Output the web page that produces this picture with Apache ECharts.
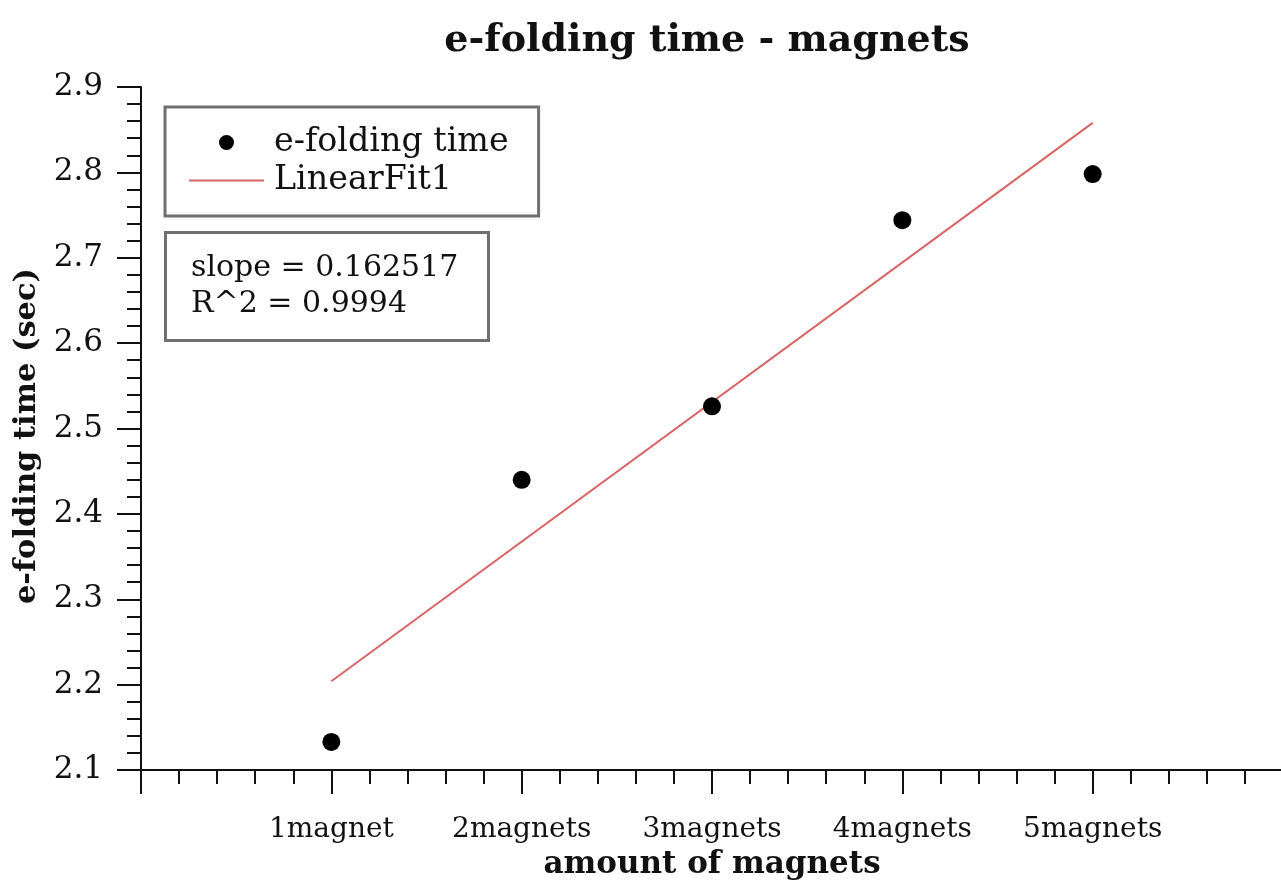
<!DOCTYPE html>
<html>
<head>
<meta charset="utf-8">
<script src="https://cdn.jsdelivr.net/npm/echarts@6/dist/echarts.min.js"></script>
<style>html,body{margin:0;padding:0;background:#fff;overflow:hidden;width:1281px;height:885px}#c{width:1286px;height:885px}</style>
</head>
<body>
<div id="c"></div>
<script>
const categories = ['1magnet', '2magnets', '3magnets', '4magnets', '5magnets'];
const xPositions = [1, 2, 3, 4, 5];
const efoldingTime = [2.133, 2.440, 2.526, 2.744, 2.798];
const fitX = [1, 5];
const fitY = [2.204, 2.858];
const yTicks = ['2.1', '2.2', '2.3', '2.4', '2.5', '2.6', '2.7', '2.8', '2.9'];
const statsText = ['slope = 0.162517', 'R^2 = 0.9994'];

const FONT = 'DejaVu Serif';
const chart = echarts.init(document.getElementById('c'), null, {renderer: 'canvas'});
chart.setOption({
  animation: false,
  backgroundColor: '#fff',
  title: [
    {
      text: 'e-folding time - magnets',
      left: 702, top: 17, textAlign: 'center',
      textStyle: {fontFamily: FONT, fontWeight: 'bold', fontSize: 38, color: '#111'}
    },
    {
      text: statsText.join('\n'),
      left: 165, top: 232,
      padding: [18, 30, 19, 26],
      borderColor: '#707070', borderWidth: 3,
      backgroundColor: '#fff',
      textStyle: {fontFamily: FONT, fontWeight: 'normal', fontSize: 30, lineHeight: 36, color: '#111'}
    }
  ],
  legend: {
    orient: 'vertical',
    left: 165, top: 107,
    padding: [19, 30, 19, 24],
    borderColor: '#707070', borderWidth: 3,
    backgroundColor: '#fff',
    symbolKeepAspect: true,
    itemWidth: 75, itemHeight: 15, itemGap: 5,
    textStyle: {fontFamily: FONT, fontSize: 33.3, lineHeight: 32, color: '#111', padding: [0, 0, 0, 5]},
    data: [
      {name: 'e-folding time', icon: 'circle'},
      {name: 'LinearFit1', icon: 'path://M0,0 L75,0 L75,2 L0,2 Z'}
    ]
  },
  grid: {left: 141, right: 1, top: 87, bottom: 109, containLabel: false},
  xAxis: {
    type: 'value', min: 0, max: 6, interval: 1,
    name: 'amount of magnets', nameLocation: 'middle', nameGap: 78,
    nameTextStyle: {fontFamily: FONT, fontWeight: 'bold', fontSize: 31, color: '#111'},
    axisLine: {lineStyle: {color: '#111', width: 2}},
    axisTick: {show: true, inside: false, length: 24, lineStyle: {color: '#111', width: 2}},
    minorTick: {show: true, splitNumber: 5, length: 14, lineStyle: {color: '#111', width: 2}},
    splitLine: {show: false},
    axisLabel: {
      margin: 46, fontFamily: FONT, fontSize: 28, color: '#111',
      formatter: function (v) { const i = xPositions.indexOf(v); return i >= 0 ? categories[i] : ''; }
    }
  },
  yAxis: {
    type: 'value', min: 2.1, max: 2.9, interval: 0.1,
    name: 'e-folding time (sec)', nameLocation: 'middle', nameGap: 76, nameRotate: 90,
    nameTextStyle: {fontFamily: FONT, fontWeight: 'bold', fontSize: 30.5, color: '#111', padding: [0, 15, 0, 0]},
    axisLine: {show: true, lineStyle: {color: '#111', width: 2}},
    axisTick: {show: true, inside: false, length: 24, lineStyle: {color: '#111', width: 2}},
    minorTick: {show: true, splitNumber: 5, length: 14, lineStyle: {color: '#111', width: 2}},
    splitLine: {show: false},
    axisLabel: {
      margin: 38, fontFamily: FONT, fontSize: 31, color: '#111',
      formatter: function (v) { const i = Math.round((v - 2.1) * 10); return yTicks[i] !== undefined ? yTicks[i] : ''; }
    }
  },
  series: [
    {
      name: 'e-folding time', type: 'scatter', symbol: 'circle', symbolSize: 18,
      itemStyle: {color: '#000', opacity: 1},
      data: xPositions.map((x, i) => [x, efoldingTime[i]]),
      z: 3
    },
    {
      name: 'LinearFit1', type: 'line', showSymbol: false, symbol: 'none',
      lineStyle: {color: '#d96464', width: 2},
      itemStyle: {color: '#d96464'},
      data: fitX.map((x, i) => [x, fitY[i]]),
      z: 2
    }
  ]
});
</script>
</body>
</html>
